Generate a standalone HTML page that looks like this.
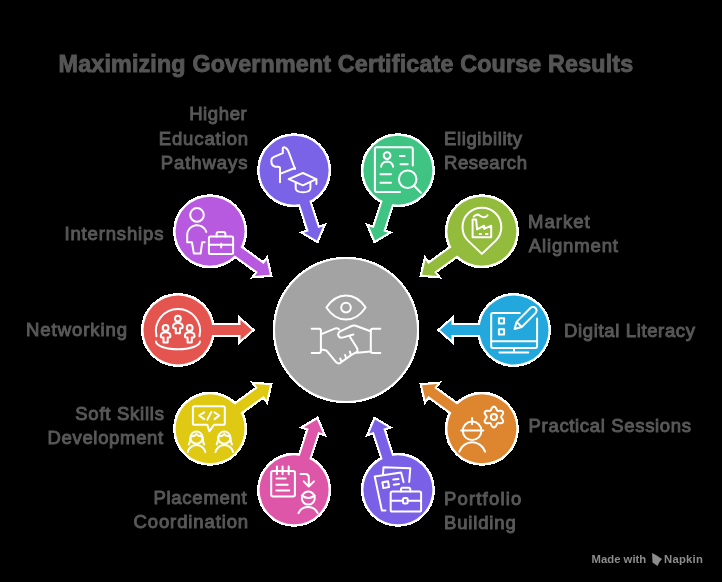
<!DOCTYPE html>
<html><head><meta charset="utf-8"><style>
html,body{margin:0;padding:0;background:#000;width:722px;height:582px;overflow:hidden;position:relative}
svg{will-change:transform}
svg text{font-family:"Liberation Sans",sans-serif}
</style></head><body>
<svg width="722" height="582" viewBox="0 0 722 582" style="position:absolute;left:0;top:0">
<g fill="#fff" stroke="#fff" stroke-width="4.4" stroke-linejoin="miter" shape-rendering="crispEdges"><circle cx="294.09" cy="170.22" r="34.5" stroke-width="5"/><path d="M316.95 240.60 L322.91 226.57 L318.15 228.12 L307.49 195.31 L297.98 198.40 L308.64 231.21 L303.89 232.75 Z"/><circle cx="397.91" cy="170.22" r="34.5" stroke-width="5"/><path d="M375.05 240.60 L388.11 232.75 L383.36 231.21 L394.02 198.40 L384.51 195.31 L373.85 228.12 L369.09 226.57 Z"/><circle cx="481.91" cy="231.25" r="34.5" stroke-width="5"/><path d="M422.05 274.75 L437.23 276.08 L434.29 272.03 L462.20 251.76 L456.32 243.66 L428.41 263.94 L425.47 259.90 Z"/><circle cx="514.00" cy="330.00" r="34.5" stroke-width="5"/><path d="M440.00 330.00 L451.50 340.00 L451.50 335.00 L486.00 335.00 L486.00 325.00 L451.50 325.00 L451.50 320.00 Z"/><circle cx="481.91" cy="428.75" r="34.5" stroke-width="5"/><path d="M422.05 385.25 L425.47 400.10 L428.41 396.06 L456.32 416.34 L462.20 408.24 L434.29 387.97 L437.23 383.92 Z"/><circle cx="397.91" cy="489.78" r="34.5" stroke-width="5"/><path d="M375.05 419.40 L369.09 433.43 L373.85 431.88 L384.51 464.69 L394.02 461.60 L383.36 428.79 L388.11 427.25 Z"/><circle cx="294.09" cy="489.78" r="34.5" stroke-width="5"/><path d="M316.95 419.40 L303.89 427.25 L308.64 428.79 L297.98 461.60 L307.49 464.69 L318.15 431.88 L322.91 433.43 Z"/><circle cx="210.09" cy="428.75" r="34.5" stroke-width="5"/><path d="M269.95 385.25 L254.77 383.92 L257.71 387.97 L229.80 408.24 L235.68 416.34 L263.59 396.06 L266.53 400.10 Z"/><circle cx="178.00" cy="330.00" r="34.5" stroke-width="5"/><path d="M252.00 330.00 L240.50 320.00 L240.50 325.00 L206.00 325.00 L206.00 335.00 L240.50 335.00 L240.50 340.00 Z"/><circle cx="210.09" cy="231.25" r="34.5" stroke-width="5"/><path d="M269.95 274.75 L266.53 259.90 L263.59 263.94 L235.68 243.66 L229.80 251.76 L257.71 272.03 L254.77 276.08 Z"/><circle cx="346" cy="330" r="71"/></g>
<g fill="#7b63e8"><circle cx="294.09" cy="170.22" r="34.5"/><path d="M316.95 240.60 L322.91 226.57 L318.15 228.12 L307.49 195.31 L297.98 198.40 L308.64 231.21 L303.89 232.75 Z"/></g><g fill="#40c484"><circle cx="397.91" cy="170.22" r="34.5"/><path d="M375.05 240.60 L388.11 232.75 L383.36 231.21 L394.02 198.40 L384.51 195.31 L373.85 228.12 L369.09 226.57 Z"/></g><g fill="#94bc3c"><circle cx="481.91" cy="231.25" r="34.5"/><path d="M422.05 274.75 L437.23 276.08 L434.29 272.03 L462.20 251.76 L456.32 243.66 L428.41 263.94 L425.47 259.90 Z"/></g><g fill="#22a8dc"><circle cx="514.00" cy="330.00" r="34.5"/><path d="M440.00 330.00 L451.50 340.00 L451.50 335.00 L486.00 335.00 L486.00 325.00 L451.50 325.00 L451.50 320.00 Z"/></g><g fill="#dd852f"><circle cx="481.91" cy="428.75" r="34.5"/><path d="M422.05 385.25 L425.47 400.10 L428.41 396.06 L456.32 416.34 L462.20 408.24 L434.29 387.97 L437.23 383.92 Z"/></g><g fill="#7a60e6"><circle cx="397.91" cy="489.78" r="34.5"/><path d="M375.05 419.40 L369.09 433.43 L373.85 431.88 L384.51 464.69 L394.02 461.60 L383.36 428.79 L388.11 427.25 Z"/></g><g fill="#de56a8"><circle cx="294.09" cy="489.78" r="34.5"/><path d="M316.95 419.40 L303.89 427.25 L308.64 428.79 L297.98 461.60 L307.49 464.69 L318.15 431.88 L322.91 433.43 Z"/></g><g fill="#dfc913"><circle cx="210.09" cy="428.75" r="34.5"/><path d="M269.95 385.25 L254.77 383.92 L257.71 387.97 L229.80 408.24 L235.68 416.34 L263.59 396.06 L266.53 400.10 Z"/></g><g fill="#e55550"><circle cx="178.00" cy="330.00" r="34.5"/><path d="M252.00 330.00 L240.50 320.00 L240.50 325.00 L206.00 325.00 L206.00 335.00 L240.50 335.00 L240.50 340.00 Z"/></g><g fill="#b85ae0"><circle cx="210.09" cy="231.25" r="34.5"/><path d="M269.95 274.75 L266.53 259.90 L263.59 263.94 L235.68 243.66 L229.80 251.76 L257.71 272.03 L254.77 276.08 Z"/></g>
<circle cx="346" cy="330" r="71" fill="#a3a3a3"/>
<g fill="none" stroke="#fff" stroke-width="2" stroke-linecap="round" stroke-linejoin="round"><g transform="translate(294.10 170.20)">
<path d="M -14.1 12 V -1.6 Q -14.1 -3.4 -15.9 -3.4 H -18.6 Q -22.7 -4.2 -22.7 -8.6 V -10.3 Q -22.7 -12.2 -20.6 -13 L -11.3 -17 V -21.8 Q -11.3 -23 -9.8 -22.9 Q -7 -22.3 -5.2 -17.6 L 0.9 -1.2"/>
<path d="M 0.9 -2.2 L -13.6 3.4"/>
<path d="M -5.4 9 L 8.8 2.8 L 22.1 9 L 8.8 15.1 Z"/>
<path d="M 22.3 9 V 13.9"/>
<path d="M 1.6 12.4 V 18.3 Q 2 21.9 8.8 22.1 Q 15.9 21.9 16.3 18.3 V 12.4"/>
</g><g transform="translate(397.90 170.20)">
<path d="M 14.9 -4.6 V -21 Q 14.9 -23 12.9 -23 H -21 Q -23 -23 -23 -21 V 19.9 Q -23 21.9 -21 21.9 H 2.1"/>
<circle cx="-10.8" cy="-14.6" r="3.4"/>
<path d="M -16.8 -3.5 Q -16 -8.6 -10.8 -8.8 Q -5.6 -8.6 -4.8 -3.5"/>
<path d="M 2 -14.2 H 6.6 M 2.6 -6 H 9.8 M -17.4 4.1 H -6.9 M -17.4 12.5 H -6.9"/>
<circle cx="9.8" cy="9" r="8.8"/>
<path d="M 16.2 15.5 L 23 22.5"/>
</g><g transform="translate(481.90 231.30)">
<path d="M 0 22.6 L -13.9 9.3 A 19.4 19.4 0 1 1 13.9 9.3 Z"/>
<path d="M -9.3 -11.9 H -5.8 L -4.8 -2 L 2.3 -5.6 V -2.4 L 9.3 -5.6 V 5.9 H -9.3 Z"/>
<path d="M -2.2 2.7 H -0.9 M 4.1 2.7 H 5.6"/>
<path d="M -8.2 -14.6 Q -5.2 -18.2 -1.8 -15.6 Q 2.5 -12.4 5.6 -16"/>
</g><g transform="translate(514.00 330.00)">
<path d="M 5.8 -17.1 H -21.2 Q -22.8 -17.1 -22.8 -15.5 V 16.3 Q -22.8 17.9 -21.2 17.9 H 21.5 Q 23.1 17.9 23.1 16.3 V -11.4"/>
<path d="M -22.8 11.2 H 23.1 M 0 17.9 V 22.6 M -14.5 22.6 H 14.3"/>
<rect x="-15.1" y="-11.8" width="5.2" height="5.2"/>
<rect x="-15.1" y="-0.8" width="5.2" height="5.2"/>
<g transform="translate(0.6 -1) rotate(-45)"><path d="M 0 0 L 6.5 -3.6 H 26 A 3.6 3.6 0 0 1 26 3.6 H 6.5 Z M 6.5 -3.6 V 3.6"/></g>
</g><g transform="translate(481.90 428.70)">
<circle cx="-9.8" cy="2.1" r="9.3"/>
<path d="M -20.8 1.8 H 1.4 M -9.8 -10.6 V -4.4"/>
<path d="M -22.6 22.9 A 13.6 13.6 0 0 1 3.2 22.9"/>
<g transform="translate(12 -11.7)"><path d="M 7.20 0.00 L 7.23 0.25 L 7.32 0.51 L 7.46 0.78 L 7.65 1.08 L 7.88 1.39 L 8.12 1.73 L 8.38 2.09 L 8.62 2.47 L 8.84 2.87 L 9.02 3.28 L 9.15 3.70 L 9.22 4.11 L 9.22 4.50 L 9.15 4.87 L 9.01 5.20 L 8.79 5.49 L 8.51 5.74 L 8.17 5.93 L 7.78 6.08 L 7.35 6.17 L 6.91 6.22 L 6.45 6.23 L 6.00 6.21 L 5.56 6.17 L 5.14 6.13 L 4.76 6.09 L 4.41 6.07 L 4.10 6.08 L 3.83 6.14 L 3.60 6.24 L 3.40 6.39 L 3.22 6.60 L 3.05 6.86 L 2.90 7.17 L 2.74 7.52 L 2.57 7.90 L 2.38 8.30 L 2.17 8.70 L 1.93 9.09 L 1.67 9.45 L 1.37 9.77 L 1.06 10.04 L 0.72 10.24 L 0.36 10.36 L 0.00 10.40 L -0.36 10.36 L -0.72 10.24 L -1.06 10.04 L -1.37 9.77 L -1.67 9.45 L -1.93 9.09 L -2.17 8.70 L -2.38 8.30 L -2.57 7.90 L -2.74 7.52 L -2.90 7.17 L -3.05 6.86 L -3.22 6.60 L -3.40 6.39 L -3.60 6.24 L -3.83 6.14 L -4.10 6.08 L -4.41 6.07 L -4.76 6.09 L -5.14 6.13 L -5.56 6.17 L -6.00 6.21 L -6.45 6.23 L -6.91 6.22 L -7.35 6.17 L -7.78 6.08 L -8.17 5.93 L -8.51 5.74 L -8.79 5.49 L -9.01 5.20 L -9.15 4.87 L -9.22 4.50 L -9.22 4.11 L -9.15 3.70 L -9.02 3.28 L -8.84 2.87 L -8.62 2.47 L -8.38 2.09 L -8.12 1.73 L -7.88 1.39 L -7.65 1.08 L -7.46 0.78 L -7.32 0.51 L -7.23 0.25 L -7.20 0.00 L -7.23 -0.25 L -7.32 -0.51 L -7.46 -0.78 L -7.65 -1.08 L -7.88 -1.39 L -8.12 -1.73 L -8.38 -2.09 L -8.62 -2.47 L -8.84 -2.87 L -9.02 -3.28 L -9.15 -3.70 L -9.22 -4.11 L -9.22 -4.50 L -9.15 -4.87 L -9.01 -5.20 L -8.79 -5.49 L -8.51 -5.74 L -8.17 -5.93 L -7.78 -6.08 L -7.35 -6.17 L -6.91 -6.22 L -6.45 -6.23 L -6.00 -6.21 L -5.56 -6.17 L -5.14 -6.13 L -4.76 -6.09 L -4.41 -6.07 L -4.10 -6.08 L -3.83 -6.14 L -3.60 -6.24 L -3.40 -6.39 L -3.22 -6.60 L -3.05 -6.86 L -2.90 -7.17 L -2.74 -7.52 L -2.57 -7.90 L -2.38 -8.30 L -2.17 -8.70 L -1.93 -9.09 L -1.67 -9.45 L -1.37 -9.77 L -1.06 -10.04 L -0.72 -10.24 L -0.36 -10.36 L -0.00 -10.40 L 0.36 -10.36 L 0.72 -10.24 L 1.06 -10.04 L 1.37 -9.77 L 1.67 -9.45 L 1.93 -9.09 L 2.17 -8.70 L 2.38 -8.30 L 2.57 -7.90 L 2.74 -7.52 L 2.90 -7.17 L 3.05 -6.86 L 3.22 -6.60 L 3.40 -6.39 L 3.60 -6.24 L 3.83 -6.14 L 4.10 -6.08 L 4.41 -6.07 L 4.76 -6.09 L 5.14 -6.13 L 5.56 -6.17 L 6.00 -6.21 L 6.45 -6.23 L 6.91 -6.22 L 7.35 -6.17 L 7.78 -6.08 L 8.17 -5.93 L 8.51 -5.74 L 8.79 -5.49 L 9.01 -5.20 L 9.15 -4.87 L 9.22 -4.50 L 9.22 -4.11 L 9.15 -3.70 L 9.02 -3.28 L 8.84 -2.87 L 8.62 -2.47 L 8.38 -2.09 L 8.12 -1.73 L 7.88 -1.39 L 7.65 -1.08 L 7.46 -0.78 L 7.32 -0.51 L 7.23 -0.25 Z"/></g>
<circle cx="12" cy="-11.7" r="3"/>
</g><g transform="translate(397.90 489.80)">
<path d="M -14.9 -15.8 L -14.4 -22.6 L 12.4 -21.6 L 11.3 -7.8"/>
<path d="M 5.7 -7.6 L 3.2 -17.4 L -23.2 -13.3 L -16 20.7 H -12.4"/>
<g transform="translate(-12.2 -5.1) rotate(-10)"><rect x="-2.9" y="-2.9" width="5.8" height="5.8"/></g>
<path d="M -4.6 -10.2 L 0.6 -10.8 M -4.1 -5.1 L 1.1 -5.9"/>
<rect x="-7.2" y="1.7" width="30.4" height="20" rx="1.6"/>
<path d="M 3.1 1.7 V -0.4 Q 3.1 -2 4.7 -2 H 10.8 Q 12.4 -2 12.4 -0.4 V 1.7"/>
<path d="M -7.2 10.9 H 5.1 M 9.8 10.9 H 23.2"/>
<rect x="5.1" y="8.3" width="4.7" height="5.4" rx="1.5"/>
</g><g transform="translate(294.10 489.80)">
<rect x="-22.9" y="-18.9" width="23.7" height="25.6" rx="1.8"/>
<path d="M -17.2 -23.2 V -15.6 M -11.5 -23.2 V -15.6 M -5.4 -23.2 V -15.6"/>
<path d="M -17.7 -11.2 H -8.5 M -17.7 -5.1 H -6.4 M -17.7 0.8 H -4.8"/>
<path d="M 6.5 -15.9 H 11.2 Q 14.7 -15.9 14.7 -12.4 V -3.6 M 9.6 -8.4 L 14.7 -3.3 L 19.9 -8.4"/>
<circle cx="14.2" cy="8.3" r="6.5"/>
<path d="M 7.8 5.8 Q 14.2 10.5 20.6 5.8"/>
<path d="M 4.4 23.3 A 10.5 10.5 0 0 1 23.5 23.3"/>
</g><g transform="translate(210.10 428.70)">
<path d="M -2.8 -3.9 H -15.6 Q -17.2 -3.9 -17.2 -5.5 V -20.9 Q -17.2 -22.5 -15.6 -22.5 H 13.1 Q 14.7 -22.5 14.7 -20.9 V -5.5 Q 14.7 -3.9 13.1 -3.9 H 3.9 L -0.8 2.6 Z"/>
<path d="M -5.9 -16.3 L -11 -13.2 L -5.9 -9.6 M -2.8 -9.1 L 1.3 -16.8 M 4.4 -16.3 L 9.1 -13.2 L 4.4 -9.6"/>
<g transform="translate(-13.6 9)"><circle cx="0" cy="0" r="6.1"/>
<path d="M -7.7 6.7 Q -6.2 4 -6.1 0 M 7.7 6.7 Q 6.2 4 6.1 0"/>
<path d="M -5.6 -1.5 Q -2 -1 0 -3.6 Q 2 -1 5.6 -1.5"/>
<path d="M -8.8 14.4 A 9 9 0 0 1 8.8 14.4"/></g>
<g transform="translate(14.2 9)"><circle cx="0" cy="0" r="6.1"/>
<path d="M -7.7 6.7 Q -6.2 4 -6.1 0 M 7.7 6.7 Q 6.2 4 6.1 0"/>
<path d="M -5.6 -1.5 Q -2 -1 0 -3.6 Q 2 -1 5.6 -1.5"/>
<path d="M -8.8 14.4 A 9 9 0 0 1 8.8 14.4"/></g>
</g><g transform="translate(178.00 330.00)">
<path d="M -21.5 6.2 A 22.1 22.1 0 1 1 21.5 6.2"/>
<path d="M -22 11.6 A 22 7.6 0 0 0 22 11.6"/>
<g transform="translate(-0.1 -11.4)"><circle cx="0" cy="0" r="2.9"/>
<path d="M -2.1 14.6 V 9.7 H -3.7 Q -4.8 9.7 -4.8 8.6 V 8 Q -4.8 4.4 0 4.4 Q 4.8 4.4 4.8 8 V 8.6 Q 4.8 9.7 3.7 9.7 H 2.1 V 14.6 Z"/></g>
<g transform="translate(-12.4 -2.1)"><circle cx="0" cy="0" r="2.9"/>
<path d="M -2.1 14.6 V 9.7 H -3.7 Q -4.8 9.7 -4.8 8.6 V 8 Q -4.8 4.4 0 4.4 Q 4.8 4.4 4.8 8 V 8.6 Q 4.8 9.7 3.7 9.7 H 2.1 V 14.6 Z"/></g>
<g transform="translate(11.7 -2.1)"><circle cx="0" cy="0" r="2.9"/>
<path d="M -2.1 14.6 V 9.7 H -3.7 Q -4.8 9.7 -4.8 8.6 V 8 Q -4.8 4.4 0 4.4 Q 4.8 4.4 4.8 8 V 8.6 Q 4.8 9.7 3.7 9.7 H 2.1 V 14.6 Z"/></g>
</g><g transform="translate(210.10 231.30)">
<circle cx="-13.1" cy="-16.4" r="6.8"/>
<path d="M -3.8 0.6 A 9.8 9.8 0 0 0 -22.9 3.3 V 10.9 H -18.2 L -16.2 22.3 H -9.5 L -7.9 10.9 H -5.4"/>
<rect x="-1.2" y="5.3" width="24.2" height="17.5" rx="1.5"/>
<path d="M 6.5 5.3 V 2.6 Q 6.5 0.6 8.5 0.6 H 13.3 Q 15.3 0.6 15.3 2.6 V 5.3 M -1.2 13.5 H 23 M 11.1 12.5 V 16.1"/>
</g><g transform="translate(346.00 330.00)">
<path d="M -19.6 -22.5 C -9 -38.6 9 -38.6 19.6 -22.5 C 9 -6.4 -9 -6.4 -19.6 -22.5 Z"/>
<circle cx="0" cy="-22.4" r="4.8"/>
<path d="M -34.3 -1.2 H -27 Q -25.1 -1.2 -25.1 0.7 V 21 Q -25.1 22.9 -27 22.9 H -34.3"/>
<path d="M 34.3 -1.2 H 26.7 Q 24.8 -1.2 24.8 0.7 V 21 Q 24.8 22.9 26.7 22.9 H 34.3"/>
<path d="M -24.6 4.1 L -10.6 -1.6 Q -8.4 -2 -6.7 -0.6"/>
<path d="M 24.6 1.3 L 9.7 -4.3 Q 7.5 -5 5.6 -4 L -5.8 1.4 Q -8.3 2.8 -7.7 5.4 Q -6.8 8.2 -3.6 7.6 L 7.4 4.5"/>
<path d="M 3.6 6.2 L 11 18 Q 12.3 21.2 10.4 22.6 M 11.2 22.8 L 24.6 21.6"/>
<path d="M -24.6 19.5 L -20.6 20.3 Q -19.5 20.6 -18.8 21.4 L -9.8 32.3 Q -7.3 34.6 -4.8 32.2 L 0.2 28.6 L 5.1 25.1 L 10.6 22.2"/>
<path d="M -5.8 28.5 L -4.6 31.4 M -0.9 25 L 0.1 28 M 3.8 21.6 L 4.9 24.6"/>
</g></g>

<text x="58.6" y="72.1" font-size="23.3" font-weight="bold" fill="#555" stroke="#555" stroke-width="0.9" letter-spacing="0.16">Maximizing Government Certificate Course Results</text>
<g font-size="18.5" fill="#585858" stroke="#585858" stroke-width="0.95" transform="translate(0 -0.05)"><text x="247.40" y="120.55" text-anchor="end" letter-spacing="0.626">Higher</text><text x="249.07" y="144.60" text-anchor="end" letter-spacing="0.902">Education</text><text x="248.40" y="168.65" text-anchor="end" letter-spacing="0.930">Pathways</text><text x="444.04" y="144.60" text-anchor="start" letter-spacing="0.612">Eligibility</text><text x="444.04" y="168.60" text-anchor="start" letter-spacing="0.530">Research</text><text x="528.08" y="228.20" text-anchor="start" letter-spacing="0.990">Market</text><text x="528.78" y="252.20" text-anchor="start" letter-spacing="0.868">Alignment</text><text x="564.00" y="336.75" text-anchor="start" letter-spacing="0.645">Digital Literacy</text><text x="528.62" y="432.50" text-anchor="start" letter-spacing="0.661">Practical Sessions</text><text x="444.04" y="504.60" text-anchor="start" letter-spacing="1.165">Portfolio</text><text x="444.04" y="528.60" text-anchor="start" letter-spacing="0.830">Building</text><text x="247.51" y="504.25" text-anchor="end" letter-spacing="0.745">Placement</text><text x="249.06" y="528.25" text-anchor="end" letter-spacing="0.888">Coordination</text><text x="164.63" y="420.05" text-anchor="end" letter-spacing="0.738">Soft Skills</text><text x="163.86" y="444.30" text-anchor="end" letter-spacing="0.668">Development</text><text x="127.90" y="336.35" text-anchor="end" letter-spacing="0.928">Networking</text><text x="164.28" y="240.35" text-anchor="end" letter-spacing="0.850">Internships</text></g>
<text x="591.6" y="563" font-size="11.3" font-weight="bold" fill="#8c8c8c">Made with</text>
<path d="M 652 553 L 656 555 L 662 559 L 659.5 562 L 657.5 566 L 652.5 562.5 Z" fill="#8c8c8c"/>
<text x="664" y="563" font-size="11.3" font-weight="bold" fill="#8c8c8c" letter-spacing="0.25">Napkin</text>
</svg>
</body></html>
